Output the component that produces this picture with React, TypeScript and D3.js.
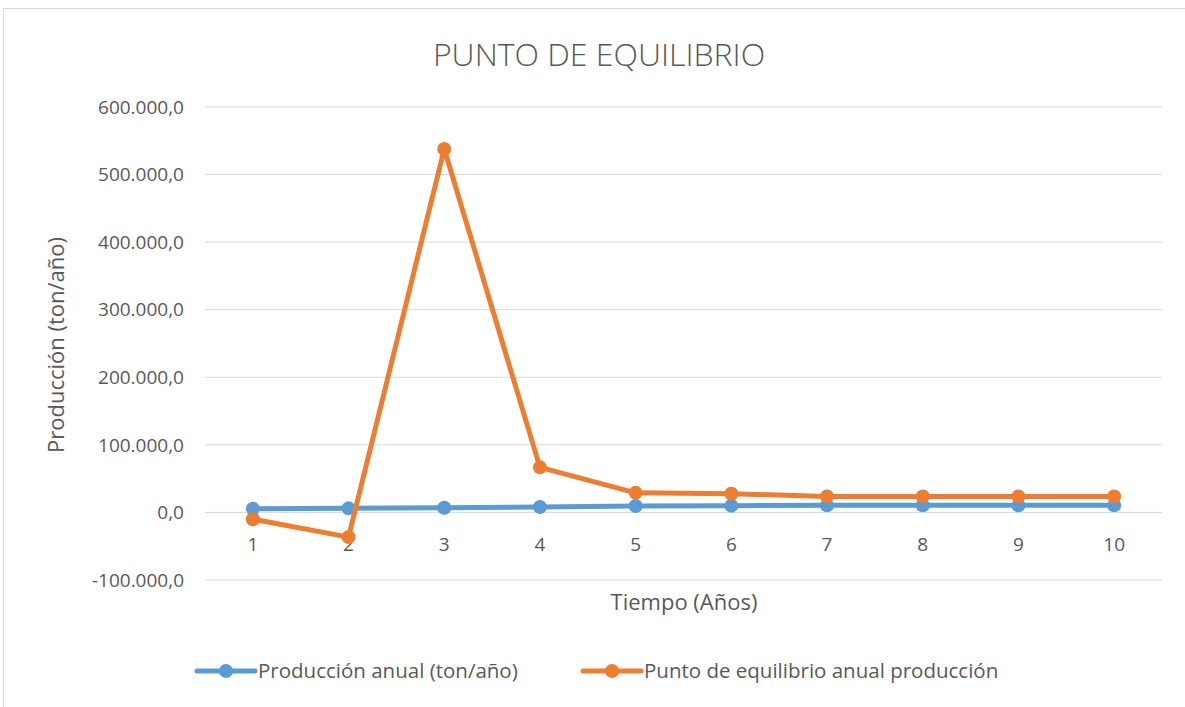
import React from "react";
import * as d3 from "d3";

const years = ["1", "2", "3", "4", "5", "6", "7", "8", "9", "10"];
const produccion = [5500, 6000, 7000, 8000, 9500, 10000, 10500, 10500, 10500, 10500];
const equilibrio = [-10000, -36500, 537800, 66700, 29000, 27700, 23700, 23700, 23700, 23700];
const yTicks = [-100000, 0, 100000, 200000, 300000, 400000, 500000, 600000];
const seriesNames = ["Producción anual (ton/año)", "Punto de equilibrio anual producción"];
const colors = ["#5B9BD5", "#ED7D31"];

const fmt = (v: number) => {
  const s = d3.format(",.1f")(v);
  return s.replace(/,/g, "#").replace(".", ",").replace(/#/g, ".").replace("−", "-");
};

export default function App() {
  const W = 1185, H = 707;
  const left = 205, right = 1162, top = 107, bottom = 580;
  const x = d3.scaleBand<string>().domain(years).range([left, right]);
  const y = d3.scaleLinear().domain([-100000, 600000]).range([bottom, top]);
  const cx = (i: number) => (x(years[i]) as number) + x.bandwidth() / 2;
  const line = d3.line<number>().x((_, i) => cx(i)).y((d) => y(d));
  const font = "Open Sans, Calibri, sans-serif";
  const txt = "#595959";
  const series = [produccion, equilibrio];
  return (
    <svg width={W} height={H} style={{ position: "absolute", left: 0, top: 0 }} fontFamily={font}>
      <rect x={0} y={0} width={W} height={H} fill="#fff" />
      <rect x={3.5} y={8.5} width={W + 10} height={H + 10} fill="none" stroke="#D9D9D9" />
      <text x={599} y={66} textAnchor="middle" fontSize={32} fontWeight={300} fill={txt}>
        PUNTO DE EQUILIBRIO
      </text>
      {yTicks.map((t) => (
        <g key={t}>
          <line x1={left} x2={right} y1={y(t)} y2={y(t)} stroke="#D9D9D9" strokeWidth={1} />
          <text x={184} y={y(t)} dy="0.35em" textAnchor="end" fontSize={19} fill={txt}>
            {fmt(t)}
          </text>
        </g>
      ))}
      {years.map((yr, i) => (
        <text key={yr} x={cx(i)} y={551} textAnchor="middle" fontSize={19} fill={txt}>
          {yr}
        </text>
      ))}
      <text x={684} y={610} textAnchor="middle" fontSize={22} fill={txt}>
        Tiempo (Años)
      </text>
      <text transform={`translate(64,345) rotate(-90)`} textAnchor="middle" fontSize={22} fill={txt}>
        Producción (ton/año)
      </text>
      {series.map((s, k) => (
        <g key={k}>
          <path d={line(s) as string} fill="none" stroke={colors[k]} strokeWidth={5} strokeLinejoin="round" strokeLinecap="round" />
          {s.map((v, i) => (
            <circle key={i} cx={cx(i)} cy={y(v)} r={7} fill={colors[k]} />
          ))}
        </g>
      ))}
      {[0, 1].map((k) => {
        const lx = k === 0 ? 197 : 583;
        return (
          <g key={k}>
            <line x1={lx} x2={lx + 58} y1={671} y2={671} stroke={colors[k]} strokeWidth={5} strokeLinecap="round" />
            <circle cx={lx + 29} cy={671} r={7} fill={colors[k]} />
            <text x={lx + 61} y={671} dy="0.35em" fontSize={20.5} fill={txt}>
              {seriesNames[k]}
            </text>
          </g>
        );
      })}
    </svg>
  );
}
